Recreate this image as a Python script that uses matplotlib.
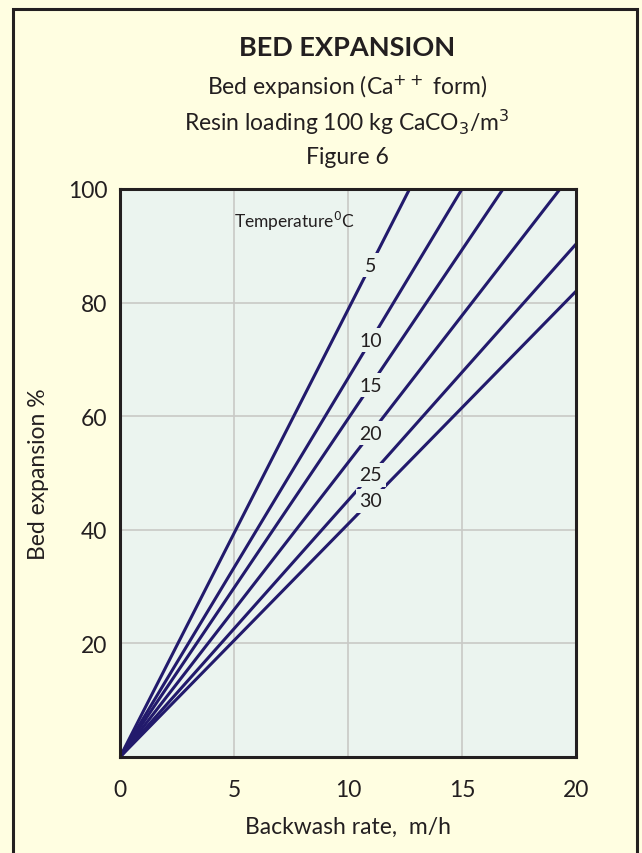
import numpy as np
import matplotlib.pyplot as plt
from matplotlib.patches import Rectangle

# temperature curves (deg C) - straight lines from the origin to their end point
temps = [5, 10, 15, 20, 25, 30]
end_rate = [12.7, 15.0, 16.8, 19.3, 20.0, 20.0]        # m/h
end_expansion = [100.0, 100.0, 100.0, 100.0, 90.3, 82.0]  # %

# where the numbers sit on each line
label_rate = [11.0, 11.0, 11.0, 11.0, 11.0, 11.0]

xticks = [0, 5, 10, 15, 20]
yticks = [20, 40, 60, 80, 100]

bg = '#FFFEE1'
axbg = '#EBF4EF'
navy = '#221A6C'
ink = '#231F20'

plt.rcParams['font.family'] = ['Lato', 'DejaVu Sans']

fig = plt.figure(figsize=(6.42, 8.54), dpi=100)
fig.patch.set_facecolor(bg)

# outer frame (open at the bottom, runs off the page)
fig.patches.append(Rectangle((13/642, -0.05), (637-13)/642, 1.05 - 10/854,
                             transform=fig.transFigure, fill=False,
                             edgecolor=ink, linewidth=2.2))

ax = fig.add_axes([120/642, 1-758/854, (576-120)/642, (758-190)/854])
ax.set_facecolor(axbg)
ax.set_xlim(0, 20)
ax.set_ylim(0, 100)
ax.set_xticks(xticks)
ax.set_yticks(yticks)
ax.grid(True, color='#C9C9C6', linewidth=1.2)
ax.set_axisbelow(True)
ax.tick_params(length=0, labelsize=16.5, colors=ink, pad=9)
ax.tick_params(axis='x', pad=16)
for s in ax.spines.values():
    s.set_color(ink)
    s.set_linewidth(2.2)

for t, xr, ye, xl in zip(temps, end_rate, end_expansion, label_rate):
    ax.plot([0, xr], [0, ye], color=navy, linewidth=2.2, solid_capstyle='butt')
    yl = ye / xr * xl
    ax.text(xl, yl, str(t), ha='center', va='center', fontsize=14, color=ink,
            bbox=dict(facecolor=axbg, edgecolor='none', pad=2.5))

ax.text(5.0, 94.4, r'Temperature$^{0}$C', ha='left', va='center', fontsize=12.5, color=ink)

ax.set_xlabel('Backwash rate,  m/h', fontsize=16.5, color=ink, labelpad=11)
ax.set_ylabel('Bed expansion %', fontsize=16.5, color=ink, labelpad=14)

cx = 347/642
fig.text(cx, 1-48/854, 'BED EXPANSION', ha='center', va='center',
         fontsize=19.5, fontweight='bold', color=ink)
fig.text(cx, 1-87/854, r'Bed expansion (Ca$^{++}$ form)', ha='center', va='center',
         fontsize=16.5, color=ink)
fig.text(cx, 1-122/854, r'Resin loading 100 kg CaCO$_{3}$/m$^{3}$', ha='center', va='center',
         fontsize=16.5, color=ink)
fig.text(cx, 1-158/854, 'Figure 6', ha='center', va='center', fontsize=16.5, color=ink)

fig.savefig('out.png', dpi=100, facecolor=bg)
